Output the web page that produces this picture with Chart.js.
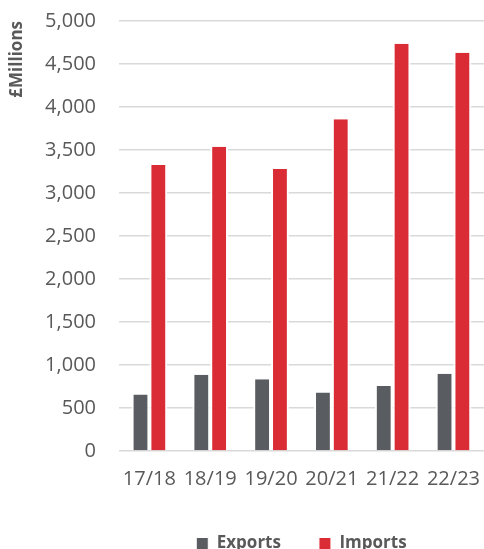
<!DOCTYPE html>
<html>
<head>
<meta charset="utf-8">
<script src="https://cdn.jsdelivr.net/npm/chart.js@4/dist/chart.umd.min.js"></script>
<style>
  html, body { margin: 0; padding: 0; overflow: hidden; background: #fff; }
  #wrap { position: relative; width: 488px; height: 562px; }
</style>
</head>
<body>
<div id="wrap"><canvas id="chart"></canvas></div>
<script>
var years = ['17/18', '18/19', '19/20', '20/21', '21/22', '22/23'];
var exportsValues = [658, 888, 833, 681, 755, 899];
var importsValues = [3326, 3539, 3279, 3858, 4736, 4631];

var textColor = '#595959';
var ctx = document.getElementById('chart');
new Chart(ctx, {
    type: 'bar',
    data: {
        labels: years,
        datasets: [{
            label: 'Exports',
            data: exportsValues,
            backgroundColor: '#595c61',
            borderColor: '#ffffff',
            borderWidth: { left: 2, right: 2, top: 0, bottom: 0 },
            borderSkipped: false
        }, {
            label: 'Imports',
            data: importsValues,
            backgroundColor: '#da2c35',
            borderColor: '#ffffff',
            borderWidth: { left: 2, right: 2, top: 0, bottom: 0 },
            borderSkipped: false
        }]
    },
    options: {
        responsive: true,
        maintainAspectRatio: false,
        animation: false,
        layout: { padding: { top: 21, left: 0, right: 0, bottom: 0 } },
        categoryPercentage: 0.586,
        barPercentage: 1,
        plugins: {
            tooltip: { enabled: false },
            legend: {
                position: 'bottom',
                fullSize: false,
                labels: {
                    color: textColor,
                    font: { family: 'Open Sans', size: 17, weight: 'bold' },
                    boxWidth: 12,
                    boxHeight: 12,
                    padding: 38
                }
            }
        },
        scales: {
            x: {
                grid: { display: false },
                border: { display: false },
                ticks: {
                    color: textColor,
                    font: { family: 'Open Sans', size: 20 },
                    padding: 8
                },
                // keep the plot bottom where the reference has it
                afterFit: function (scale) { scale.height = 46; }
            },
            y: {
                min: 0,
                max: 5000,
                border: { display: false },
                grid: { color: '#d9d9d9', lineWidth: 1.5, drawTicks: false },
                ticks: {
                    stepSize: 500,
                    color: textColor,
                    font: { family: 'Open Sans', size: 20 },
                    padding: 23,
                    callback: function (v) { return v.toLocaleString('en-GB'); }
                },
                title: {
                    display: true,
                    text: '£Millions',
                    align: 'end',
                    color: textColor,
                    font: { family: 'Open Sans', size: 17, weight: 'bold' },
                    padding: { top: 7, bottom: 0 }
                },
                afterFit: function (scale) {
                    scale.width = 119;
                    scale.paddingTop = 0;
                    scale.paddingBottom = 0;
                }
            }
        }
    }
});
</script>
</body>
</html>
